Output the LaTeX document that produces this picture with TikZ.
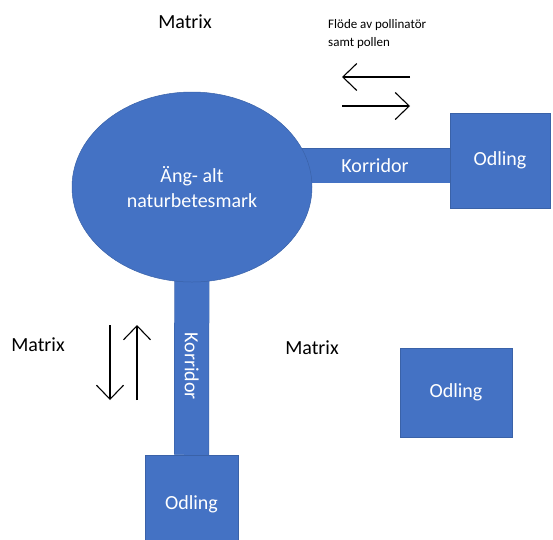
\documentclass[tikz,border=0pt]{standalone}
\usepackage{fontspec}
\setmainfont{Carlito}
\usetikzlibrary{shapes.geometric,arrows.meta}
\definecolor{ppblue}{HTML}{4472C4}
\definecolor{ppedge}{HTML}{3A62A8}
\pgfdeclarelayer{background}
\pgfsetlayers{background,main}

\begin{document}
\begin{tikzpicture}[x=1pt,y=-1pt,
  big/.style={font=\fontsize{20}{25}\selectfont},
  area/.style={big,ellipse,fill=ppblue,draw=ppedge,line width=0.5pt,text=white,align=center,minimum width=240pt,minimum height=190pt,inner sep=0pt},
  odling/.style={big,rectangle,fill=ppblue,draw=ppedge,line width=0.5pt,text=white},
  korr/.style={draw=ppedge,line width=0.5pt,double=ppblue,double distance=34pt},
  korrtext/.style={big,text=white},
  flow/.style={line width=1.1pt,-{Straight Barb[length=14pt,width=27pt]}}]
\useasboundingbox (0,0) rectangle (553,539);
\node[area] (mark) at (192,187) {Äng- alt\\naturbetesmark};
\node[odling,minimum width=100pt,minimum height=95pt] (odlingA) at (500,160.5) {Odling};
\node[odling,minimum width=112pt,minimum height=89pt] (odlingB) at (456,392.5) {Odling};
\node[odling,minimum width=93pt,minimum height=100pt] (odlingC) at (191.5,505) {\raisebox{5pt}{Odling}};
\coordinate (kA) at ([yshift=-5pt]odlingA.west);
\begin{pgfonlayer}{background}
\draw[korr] (kA -| mark.center) -- node[korrtext,pos=0.71] (korrA) {Korridor} (kA);
\draw[korr] (mark.center) -- node[korrtext,rotate=-90,pos=0.67] (korrC) {Korridor} (odlingC.north);
\end{pgfonlayer}
\node[big] (matrixA) at (185,22) {Matrix};
\node[big] (matrixB) at (38,345) {Matrix};
\node[big] (matrixC) at (312,348) {Matrix};
\node[font=\fontsize{13}{18}\selectfont,align=left,anchor=west,inner sep=0pt] (flode) at (328,34) {Flöde av pollinatör\\samt pollen};
\coordinate (flA1) at (410,77);
\coordinate (flA2) at (342,77);
\coordinate (flB1) at (342,106);
\coordinate (flB2) at (410,106);
\coordinate (flC1) at (110,325);
\coordinate (flC2) at (110,400);
\coordinate (flD1) at (137,400);
\coordinate (flD2) at (137,325);
\draw[flow] (flA1) -- (flA2);
\draw[flow] (flB1) -- (flB2);
\draw[flow] (flC1) -- (flC2);
\draw[flow] (flD1) -- (flD2);
\end{tikzpicture}
\end{document}
